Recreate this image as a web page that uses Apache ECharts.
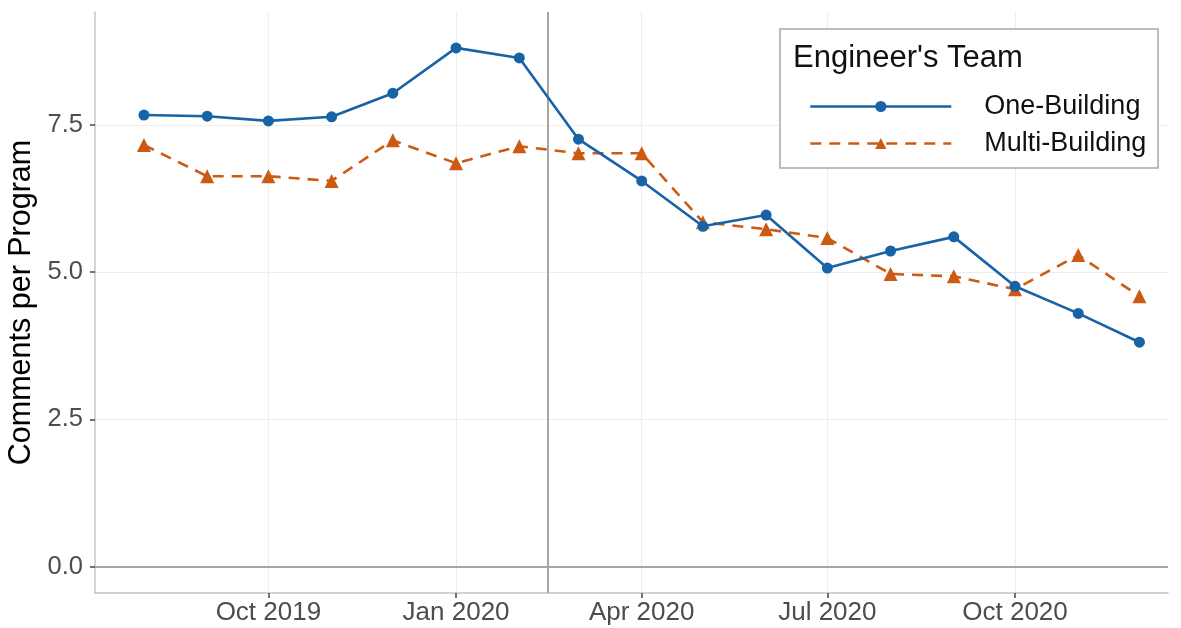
<!DOCTYPE html>
<html>
<head>
<meta charset="utf-8">
<script src="https://cdn.jsdelivr.net/npm/echarts@6/dist/echarts.min.js"></script>
<style>
  html, body { margin: 0; padding: 0; background: #fff; }
  #chart { width: 1181px; height: 628px; }
</style>
</head>
<body>
<div id="chart"></div>
<script>
// monthly points, first of each month
var months = ["2019-08-01", "2019-09-01", "2019-10-01", "2019-11-01", "2019-12-01",
  "2020-01-01", "2020-02-01", "2020-03-01", "2020-04-01", "2020-05-01", "2020-06-01",
  "2020-07-01", "2020-08-01", "2020-09-01", "2020-10-01", "2020-11-01", "2020-12-01"];
var oneBuilding = [7.67, 7.65, 7.57, 7.64, 8.04, 8.81, 8.64, 7.26, 6.55, 5.78, 5.97,
  5.07, 5.36, 5.60, 4.76, 4.30, 3.81];
var multiBuilding = [7.16, 6.63, 6.63, 6.55, 7.24, 6.85, 7.14, 7.02, 7.02, 5.85, 5.73,
  5.58, 4.97, 4.93, 4.71, 5.29, 4.59];
var xTickDates = ["2019-10-01", "2020-01-01", "2020-04-01", "2020-07-01", "2020-10-01"];
var yTicks = [0, 2.5, 5, 7.5];
var cutoffDate = "2020-02-15";
var monthNames = ["Jan", "Feb", "Mar", "Apr", "May", "Jun", "Jul", "Aug", "Sep", "Oct", "Nov", "Dec"];

// local timestamp from yyyy-mm-dd
function ts(s) {
  var p = s.split("-");
  return new Date(+p[0], +p[1] - 1, +p[2]).getTime();
}

var font = "Liberation Sans, Arial, sans-serif";
var chart = echarts.init(document.getElementById("chart"));

var option = {
  animation: false,
  textStyle: { fontFamily: font },
  grid: { left: 95, right: 13, top: 12, bottom: 35, outerBoundsMode: "none" },
  xAxis: {
    type: "value",
    min: ts("2019-07-08"),
    max: ts("2020-12-15"),
    axisLine: { show: true, onZero: false, lineStyle: { color: "#c4c4c4", width: 1.5 } },
    axisTick: { show: true, length: 5, lineStyle: { color: "#444", width: 1.5 },
      customValues: xTickDates.map(ts) },
    axisLabel: {
      customValues: xTickDates.map(ts),
      color: "#4d4d4d", fontSize: 26, margin: 7, hideOverlap: false,
      formatter: function (v) {
        var d = new Date(v);
        return monthNames[d.getMonth()] + " " + d.getFullYear();
      }
    },
    splitLine: { show: true, lineStyle: { color: "#ededed", width: 1.2 } }
  },
  yAxis: {
    type: "value",
    min: -0.45,
    max: 9.42,
    name: "Comments per Program",
    nameLocation: "middle",
    nameGap: 51,
    nameTextStyle: { fontSize: 30.5, color: "#000" },
    axisLine: { show: true, onZero: false, lineStyle: { color: "#c4c4c4", width: 1.5 } },
    axisTick: { show: true, length: 5, lineStyle: { color: "#444", width: 1.5 },
      customValues: yTicks },
    axisLabel: {
      customValues: yTicks,
      color: "#4d4d4d", fontSize: 25.5, margin: 12,
      formatter: function (v) { return v.toFixed(1); }
    },
    splitLine: { show: true, lineStyle: { color: "#ededed", width: 1.2 } }
  },
  legend: {
    orient: "vertical",
    left: 804,
    top: 88,
    itemWidth: 141,
    itemHeight: 14,
    itemGap: 10,
    z: 6,
    lineStyle: { width: 2.6 },
    textStyle: { fontSize: 27, color: "#111", padding: [0, 0, 0, 28] },
    data: ["One-Building", "Multi-Building"]
  },
  graphic: [
    {
      type: "rect", z: 3,
      shape: { x: 780, y: 29, width: 378, height: 139 },
      style: { fill: "#fff", stroke: "#a8a8a8", lineWidth: 1.5 }
    },
    {
      type: "text", z: 6, x: 793, y: 58,
      style: { text: "Engineer's Team", font: "31px " + font, fill: "#111",
        verticalAlign: "middle" }
    }
  ],
  series: [
    {
      name: "One-Building",
      type: "line",
      data: months.map(function (m, i) { return [ts(m), oneBuilding[i]]; }),
      symbol: "circle",
      symbolSize: 11,
      itemStyle: { color: "#1862a6" },
      lineStyle: { color: "#1862a6", width: 2.6 },
      z: 5,
      markLine: {
        silent: true,
        symbol: "none",
        label: { show: false },
        lineStyle: { color: "#a6a6a6", width: 2, type: "solid" },
        data: [{ yAxis: 0 }, { xAxis: ts(cutoffDate) }]
      }
    },
    {
      name: "Multi-Building",
      type: "line",
      data: months.map(function (m, i) { return [ts(m), multiBuilding[i]]; }),
      symbol: "triangle",
      symbolSize: 14,
      itemStyle: { color: "#cc5a12" },
      lineStyle: { color: "#cc5a12", width: 2.6, type: [11, 8] },
      z: 4
    }
  ]
};

chart.setOption(option);
</script>
</body>
</html>
